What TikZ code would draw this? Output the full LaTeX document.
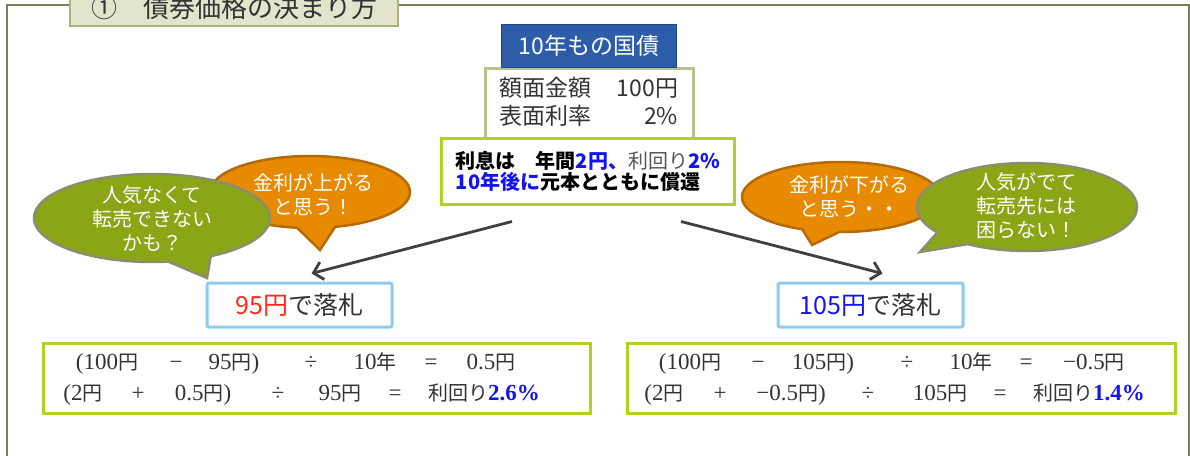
\documentclass[tikz,border=0pt]{standalone}
\usepackage{fontspec}
\setmainfont{Noto Sans CJK JP}
\newfontfamily\rfont{Liberation Serif}
\newfontfamily\jfont{Noto Sans CJK JP}
\usetikzlibrary{shapes.callouts,arrows.meta}
\definecolor{frameC}{HTML}{7B7D5C}
\definecolor{titleF}{HTML}{E2E4CC}
\definecolor{titleD}{HTML}{A8B47C}
\definecolor{bondF}{HTML}{2D5DA9}
\definecolor{bondD}{HTML}{1F4687}
\definecolor{specC}{HTML}{B7C28E}
\definecolor{limeC}{HTML}{B3D11E}
\definecolor{skyC}{HTML}{8DCBF0}
\definecolor{orangeC}{HTML}{E88A00}
\definecolor{orangeD}{HTML}{B46A08}
\definecolor{oliveC}{HTML}{8AA516}
\definecolor{oliveD}{HTML}{8A8E6C}
\definecolor{arrowC}{HTML}{404040}
\definecolor{textC}{HTML}{333333}
\definecolor{numB}{HTML}{1414F0}
\definecolor{redT}{HTML}{FF2A1A}
\definecolor{grayT}{HTML}{555555}
\newcommand\J[1]{{\fontsize{20}{22}\jfont #1}}
\newcommand\Y{\J{円}}
\begin{document}
\begin{tikzpicture}[x=1pt,y=-1pt]
\path[use as bounding box] (0,0) rectangle (1190,455);

\tikzstyle{every node}+=[inner sep=0pt]
\tikzstyle{box}=[draw,rectangle,fill=white]
\tikzstyle{lime}=[box,draw=limeC,line width=3pt]
\tikzstyle{bid}=[box,draw=skyC,line width=3pt,rounded corners=2pt,minimum width=185pt,minimum height=44pt,text=textC,font=\fontsize{25}{27}\selectfont]
\tikzstyle{bubble}=[ellipse callout,callout pointer arc=22,line width=2.5pt]
\tikzstyle{hot}=[bubble,fill=orangeC,draw=orangeD]
\tikzstyle{cool}=[bubble,fill=oliveC,draw=oliveD]
\tikzstyle{say}=[text=white,align=center,font=\fontsize{20}{24}\selectfont]
\tikzstyle{sum}=[anchor=base,text=textC,font=\rfont\fontsize{23}{24}\selectfont]
\tikzstyle{arr}=[draw=arrowC,line width=2.8pt,-{Straight Barb[length=9pt,width=18pt]}]

\draw[frameC,line width=1.5pt] (7,470) |- (1189,5) -- (1189,470);
\node[box,fill=titleF,draw=titleD,line width=1.5pt,minimum width=328pt,minimum height=32pt,text=textC,font=\fontsize{26}{28}\selectfont] (title) at (234,10) {\raisebox{6pt}{①　債券価格の決まり方}};

\node[box,draw=specC,line width=3pt,minimum width=208pt,minimum height=72pt,anchor=north,text=textC,font=\fontsize{23}{28}\selectfont] (spec) at (589,67)
  {\begin{tabular}{@{}l@{\hspace{25pt}}r@{}}額面金額 & 100円\\ 表面利率 & 2\%\end{tabular}};
\node[box,fill=bondF,draw=bondD,line width=1.5pt,minimum width=175pt,minimum height=43pt,text=white,font=\fontsize{23}{25}\selectfont] (bond) at (589,46) {10年もの国債};
\node[lime,minimum width=293pt,minimum height=66pt,align=left,font=\bfseries\fontsize{20}{21}\selectfont] (note) at (588,171)
  {利息は　年間\textcolor{numB}{2円、}\textcolor{grayT}{\mdseries 利回り}\textcolor{numB}{2\%}\\\textcolor{numB}{10年後に}元本とともに償還};

% bubbles
\node[hot,minimum width=200pt,minimum height=72pt,callout absolute pointer={(320,250)}] (hike) at (310,192) {};
\node[say] (hikeT) at (313,195) {金利が上がる\\と思う！};
\node[cool,minimum width=236pt,minimum height=88pt,callout absolute pointer={(207,278)}] (unpop) at (152,218) {};
\node[say] (unpopT) at (152,219) {人気なくて\\転売できない\\かも？};
\node[hot,minimum width=198pt,minimum height=70pt,callout absolute pointer={(812,245)}] (drop) at (841,197) {};
\node[say] (dropT) at (849,197) {金利が下がる\\と思う・・};
\node[cool,minimum width=220pt,minimum height=88pt,callout absolute pointer={(920,252)}] (pop) at (1027,207) {};
\node[say] (popT) at (1026,206) {人気がでて\\転売先には\\困らない！};

\node[bid] (bidLow) at (299.5,305) {\textcolor{redT}{95円}で落札};
\node[bid] (bidHigh) at (870.5,305) {\textcolor{numB}{105円}で落札};

\draw[arr] ([xshift=-76pt,yshift=-16pt]note.south) -- ([xshift=12pt,yshift=8pt]bidLow.north);
\draw[arr] ([xshift=93pt,yshift=-16pt]note.south) -- ([xshift=12pt,yshift=8pt]bidHigh.north);

% yields
\node[lime,minimum width=547pt,minimum height=70pt] (sumLow) at (316.5,378) {};
\node[lime,minimum width=548pt,minimum height=70pt] (sumHigh) at (901,378) {};
\foreach \x/\t in {107/(100\Y, 176/−, 234/95\Y), 311/÷, 375/10\J{年}, 431/=, 491/0.5\Y}
  \node[sum] (lo1-\x) at (\x,369) {\t};
\foreach \x/\t in {83/(2\Y, 138/+, 203/0.5\Y), 278/÷, 340/95\Y, 395/=}
  \node[sum] (lo2-\x) at (\x,400) {\t};
\node[sum,anchor=base west] (loYield) at (428,400) {\J{利回り}\textcolor{numB}{\bfseries 2.6\%}};
\foreach \x/\t in {690/(100\Y, 758/−, 823/105\Y), 907/÷, 971/10\J{年}, 1026/=, 1094/−0.5\Y}
  \node[sum] (hi1-\x) at (\x,369) {\t};
\foreach \x/\t in {664/(2\Y, 720/+, 791/−0.5\Y), 868/÷, 940/105\Y, 1000/=}
  \node[sum] (hi2-\x) at (\x,400) {\t};
\node[sum,anchor=base west] (hiYield) at (1033,400) {\J{利回り}\textcolor{numB}{\bfseries 1.4\%}};
\end{tikzpicture}
\end{document}
